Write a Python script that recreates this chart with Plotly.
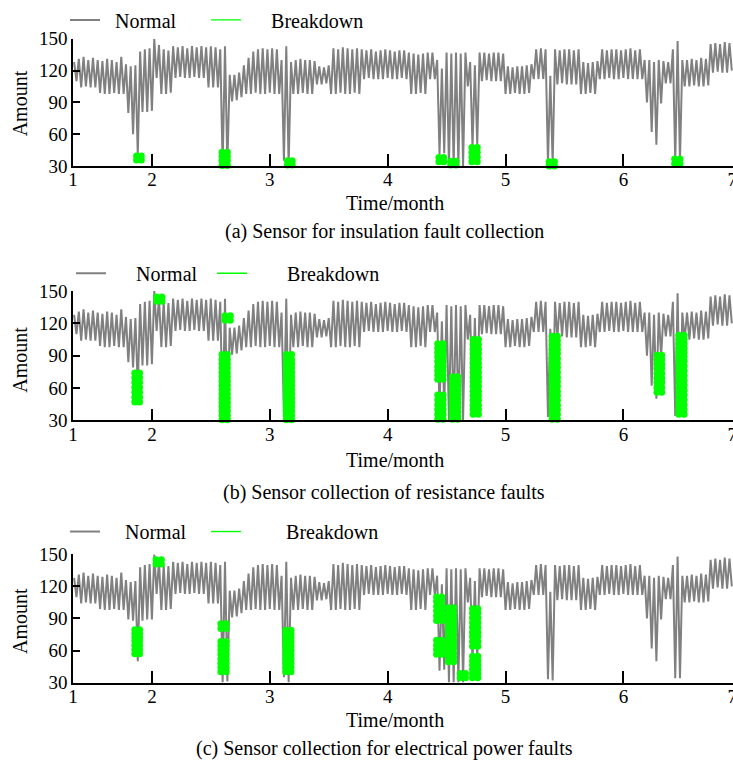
import numpy as np
import plotly.graph_objects as go

# ---------------- data ----------------
time_start = 1.34          # first sample (month)
time_step = 0.02           # sampling step (month)

# "Normal" signal; panels (b) and (c) share it except the dips patched below
normal_base = [
    128, 110, 131, 104, 133, 105, 130, 104, 132, 104,
    130, 99, 129, 98, 131, 98, 130, 99, 128, 98,
    133, 98, 126, 80, 124, 60, 125, 40, 138, 81,
    140, 81, 141, 82, 150, 113, 144, 98, 140, 98,
    139, 99, 143, 113, 142, 114, 143, 113, 141, 113,
    143, 114, 142, 113, 143, 113, 142, 104, 143, 104,
    142, 104, 140, 30, 143, 31, 116, 91, 116, 92,
    118, 95, 125, 98, 132, 98, 138, 99, 140, 98,
    141, 98, 140, 99, 141, 98, 140, 98, 130, 35,
    143, 30, 128, 98, 130, 98, 131, 99, 130, 98,
    130, 98, 129, 107, 124, 107, 123, 108, 125, 98,
    141, 98, 140, 99, 142, 98, 141, 98, 140, 99,
    141, 98, 140, 112, 139, 113, 140, 112, 138, 112,
    139, 112, 140, 113, 139, 112, 138, 112, 139, 113,
    139, 112, 137, 98, 136, 98, 135, 99, 136, 98,
    137, 112, 137, 112, 130, 41, 122, 42, 137, 30,
    136, 30, 137, 30, 136, 30, 137, 105, 128, 48,
    125, 50, 137, 110, 137, 111, 136, 110, 137, 110,
    137, 110, 136, 98, 124, 98, 123, 99, 124, 98,
    124, 98, 125, 99, 126, 112, 140, 112, 141, 112,
    140, 33, 115, 32, 140, 107, 139, 108, 140, 107,
    140, 107, 139, 107, 140, 98, 128, 98, 127, 99,
    128, 98, 129, 112, 140, 112, 139, 113, 140, 112,
    140, 112, 139, 113, 140, 112, 141, 112, 139, 112,
    140, 112, 130, 90, 130, 62, 128, 50, 130, 89,
    129, 108, 128, 108, 140, 34, 148, 34, 130, 105,
    130, 105, 131, 106, 130, 105, 132, 105, 131, 106,
    145, 118, 146, 119, 145, 118, 147, 118, 146, 120,
]

# panel-specific stretches of the normal signal (start month, values)
dip_b_start = 1.78
dip_b_values = [126, 84, 124, 79, 125, 60, 138, 81]
dip_c_start = 1.78
dip_c_values = [126, 89, 124, 88, 125, 50, 138, 88, 140, 89, 141, 89]

# Breakdown points: (month, [amounts])
breakdown_a = [
    (1.87, [35.5, 39.5]), (1.91, [35.5, 39.5]),
    (2.595, [30.5, 35, 39, 43]), (2.64, [30.5, 35, 39, 43]),
    (3.15, [31, 35]), (3.19, [31, 35]),
    (4.435, [34, 38]), (4.475, [34, 38]),
    (4.535, [31, 34.5]), (4.58, [31, 34.5]),
    (4.715, [34, 38.5, 43, 47.5]), (4.76, [34, 38.5, 43, 47.5]),
    (5.37, [30, 34]), (5.415, [30, 34]),
    (6.435, [32, 36.5]), (6.48, [32, 36.5]),
]
breakdown_b = [
    (1.855, [47, 51.5, 56, 60.5, 65, 69.5, 74]), (1.895, [47, 51.5, 56, 60.5, 65, 69.5, 74]),
    (2.04, [140.5, 144.5]), (2.085, [140.5, 144.5]),
    (2.62, [123, 127]), (2.665, [123, 127]),
    (2.595, [30.5, 34.5, 38.5, 42.5, 46.5, 50.5, 54.5, 58.5, 62.5, 66.5, 70.5, 74.5, 78.5, 82.5, 86.5, 91]),
    (2.64, [30.5, 34.5, 38.5, 42.5, 46.5, 50.5, 54.5, 58.5, 62.5, 66.5, 70.5, 74.5, 78.5, 82.5, 86.5, 91]),
    (3.14, [30.5, 34.5, 38.5, 42.5, 46.5, 50.5, 54.5, 58.5, 62.5, 66.5, 70.5, 74.5, 78.5, 82.5, 86.5, 91]),
    (3.185, [30.5, 34.5, 38.5, 42.5, 46.5, 50.5, 54.5, 58.5, 62.5, 66.5, 70.5, 74.5, 78.5, 82.5, 86.5, 91]),
    (4.425, [31, 35.5, 40, 44.5, 49, 53.5, 68, 72, 76, 80, 84.5, 89, 93, 97, 101]),
    (4.47, [31, 35.5, 40, 44.5, 49, 53.5, 68, 72, 76, 80, 84.5, 89, 93, 97, 101]),
    (4.55, [31, 34, 38, 42, 46, 50, 54, 58, 62, 66, 70.5]),
    (4.595, [31, 34, 38, 42, 46, 50, 54, 58, 62, 66, 70.5]),
    (4.725, [35.5, 40, 44, 48.5, 53, 57, 61.5, 66, 70, 74.5, 79, 83, 87.5, 92, 96, 100.5, 105]),
    (4.77, [35.5, 40, 44, 48.5, 53, 57, 61.5, 66, 70, 74.5, 79, 83, 87.5, 92, 96, 100.5, 105]),
    (5.395, [31, 35.5, 40, 44, 48.5, 53, 57, 61.5, 66, 70, 74.5, 79, 83, 87.5, 92, 96, 100, 104, 108]),
    (5.44, [31, 35.5, 40, 44, 48.5, 53, 57, 61.5, 66, 70, 74.5, 79, 83, 87.5, 92, 96, 100, 104, 108]),
    (6.285, [56, 60.5, 65, 69, 73.5, 78, 82, 86.5, 90.5]),
    (6.325, [56, 60.5, 65, 69, 73.5, 78, 82, 86.5, 90.5]),
    (6.47, [35.5, 40, 44.5, 49, 53.5, 58, 62.5, 67, 71.5, 76, 80.5, 85, 89, 93, 97, 101, 105, 109]),
    (6.515, [35.5, 40, 44.5, 49, 53.5, 58, 62.5, 67, 71.5, 76, 80.5, 85, 89, 93, 97, 101, 105, 109]),
]
breakdown_c = [
    (1.855, [57, 61, 65, 69, 72.5, 76, 79.5]), (1.895, [57, 61, 65, 69, 72.5, 76, 79.5]),
    (2.035, [141, 145]), (2.08, [141, 145]),
    (2.585, [40, 44, 48, 52, 56.5, 60.5, 64.5, 68.5, 80.5, 85]),
    (2.63, [40, 44, 48, 52, 56.5, 60.5, 64.5, 68.5, 80.5, 85]),
    (3.135, [40, 44, 48, 52, 56, 60, 64, 68, 72, 75.5, 79]),
    (3.18, [40, 44, 48, 52, 56, 60, 64, 68, 72, 75.5, 79]),
    (4.415, [56.5, 61, 65, 69.5, 88, 92.5, 97, 101.5, 106, 110]),
    (4.46, [56.5, 61, 65, 69.5, 88, 92.5, 97, 101.5, 106, 110]),
    (4.515, [49.5, 53.5, 57.5, 62, 66, 70, 74.5, 78.5, 82.5, 87, 91, 95, 100]),
    (4.56, [49.5, 53.5, 57.5, 62, 66, 70, 74.5, 78.5, 82.5, 87, 91, 95, 100]),
    (4.615, [34.5, 38.5]), (4.66, [34.5, 38.5]),
    (4.72, [34.5, 38.5, 42.5, 46.5, 50.5, 54.5, 64, 68.5, 73, 77, 81.5, 86, 90.5, 95, 99]),
    (4.765, [34.5, 38.5, 42.5, 46.5, 50.5, 54.5, 64, 68.5, 73, 77, 81.5, 86, 90.5, 95, 99]),
]

month_ticks = [1.3305, 2, 3, 4, 5, 6, 6.924]
month_labels = ["1", "2", "3", "4", "5", "6", "7"]
month_range = [1.3305, 6.93]
amount_ticks = [30, 60, 90, 120, 150]
captions = ["(a) Sensor for insulation fault collection",
            "(b) Sensor collection of resistance faults",
            "(c) Sensor collection for electrical power faults"]

# ---------------- build ----------------
months = np.round(time_start + time_step * np.arange(len(normal_base)), 3)


def patched(start, values):
    out = list(normal_base)
    i0 = int(round((start - time_start) / time_step))
    out[i0:i0 + len(values)] = values
    return out


normals = [list(normal_base), patched(dip_b_start, dip_b_values), patched(dip_c_start, dip_c_values)]
breakdowns = [breakdown_a, breakdown_b, breakdown_c]

W, H = 733, 764
FONT = "Liberation Serif"
GRAY = "#808080"
GREEN = "#00FF00"
NB = "\u00a0"

# pixel layout of each panel and its overlays
panels = [
    dict(top=34, bottom=162, legend_y=15, legend_x=65, gap1=2, trail=5, gap2=5,
         title_y=199, cap_y=228, amount_y=99),
    dict(top=288, bottom=418, legend_y=270, legend_x=71, gap1=5, trail=2, gap2=7,
         title_y=458, cap_y=491, amount_y=357),
    dict(top=553, bottom=682, legend_y=530, legend_x=65, gap1=4, trail=3, gap2=8,
         title_y=720, cap_y=748, amount_y=620),
]

fig = go.Figure()
layout = dict(
    width=W, height=H, margin=dict(l=0, r=0, t=0, b=0),
    paper_bgcolor="white", plot_bgcolor="white",
    font=dict(family=FONT, size=19, color="black"),
    annotations=[], showlegend=True,
)


def py(px):
    return 1 - px / H


for k, (p, norm, brk) in enumerate(zip(panels, normals, breakdowns), start=1):
    xa = "x" if k == 1 else f"x{k}"
    ya = "y" if k == 1 else f"y{k}"
    lg = "legend" if k == 1 else f"legend{k}"
    fig.add_trace(go.Scatter(x=months, y=norm, mode="lines",
                             name=NB * p["gap1"] + "Normal" + NB * p["trail"],
                             line=dict(color=GRAY, width=2.0), xaxis=xa, yaxis=ya,
                             legend=lg, hoverinfo="skip"))
    bx, by = [], []
    for t, vals in brk:
        bx += [t] * len(vals)
        by += vals
    fig.add_trace(go.Scatter(x=bx, y=by, mode="markers", name="Breakdown",
                             marker=dict(color=GREEN, size=7, line=dict(width=0)),
                             cliponaxis=False, xaxis=xa, yaxis=ya, showlegend=False,
                             legendgroup=f"brk{k}", legend=lg))
    fig.add_trace(go.Scatter(x=[None], y=[None], mode="lines", name=NB * p["gap2"] + "Breakdown",
                             line=dict(color=GREEN, width=1.4), xaxis=xa, yaxis=ya,
                             legendgroup=f"brk{k}", legend=lg))

    ydom = [py(p["bottom"]), py(p["top"])]
    layout["xaxis" if k == 1 else f"xaxis{k}"] = dict(
        domain=[73 / W, 1.0], range=month_range, anchor=ya,
        tickmode="array", tickvals=month_ticks, ticktext=month_labels,
        ticks="inside", ticklen=12, tickwidth=1.5, tickcolor="black",
        ticklabeloverflow="allow", ticklabelstandoff=-4,
        showline=True, linecolor="black", linewidth=1.5, showgrid=False, zeroline=False,
        tickfont=dict(family=FONT, size=19), layer="above traces", automargin=False)
    layout["yaxis" if k == 1 else f"yaxis{k}"] = dict(
        domain=ydom, range=[30, 150], anchor=xa,
        tickmode="array", tickvals=amount_ticks,
        ticks="inside", ticklen=7, tickwidth=1.5, tickcolor="black",
        showline=True, linecolor="black", linewidth=1.5, showgrid=False, zeroline=False,
        tickfont=dict(family=FONT, size=19), layer="above traces", automargin=False)
    layout[lg] = dict(orientation="h", x=p["legend_x"] / W, xanchor="left",
                      y=py(p["legend_y"]), yanchor="middle",
                      font=dict(family=FONT, size=20), bgcolor="rgba(0,0,0,0)")
    layout["annotations"] += [
        dict(text="Time/month", x=395 / W, y=py(p["title_y"]), xref="paper", yref="paper",
             showarrow=False, font=dict(family=FONT, size=20), xanchor="center", yanchor="middle"),
        dict(text=captions[k - 1], x=384 / W, y=py(p["cap_y"]), xref="paper", yref="paper",
             showarrow=False, font=dict(family=FONT, size=20), xanchor="center", yanchor="middle"),
        dict(text="Amount", x=20 / W, y=py(p["amount_y"]), xref="paper", yref="paper",
             showarrow=False, textangle=-90, font=dict(family=FONT, size=20),
             xanchor="center", yanchor="middle"),
    ]

fig.update_layout(**layout)
page_css = ("var s=document.createElement('style');"
            "s.textContent='html,body{margin:0;padding:0;overflow:hidden;width:733px;height:764px;}';"
            "document.head.appendChild(s);")
fig.write_html("out.html", config={"displayModeBar": False}, post_script=page_css)
